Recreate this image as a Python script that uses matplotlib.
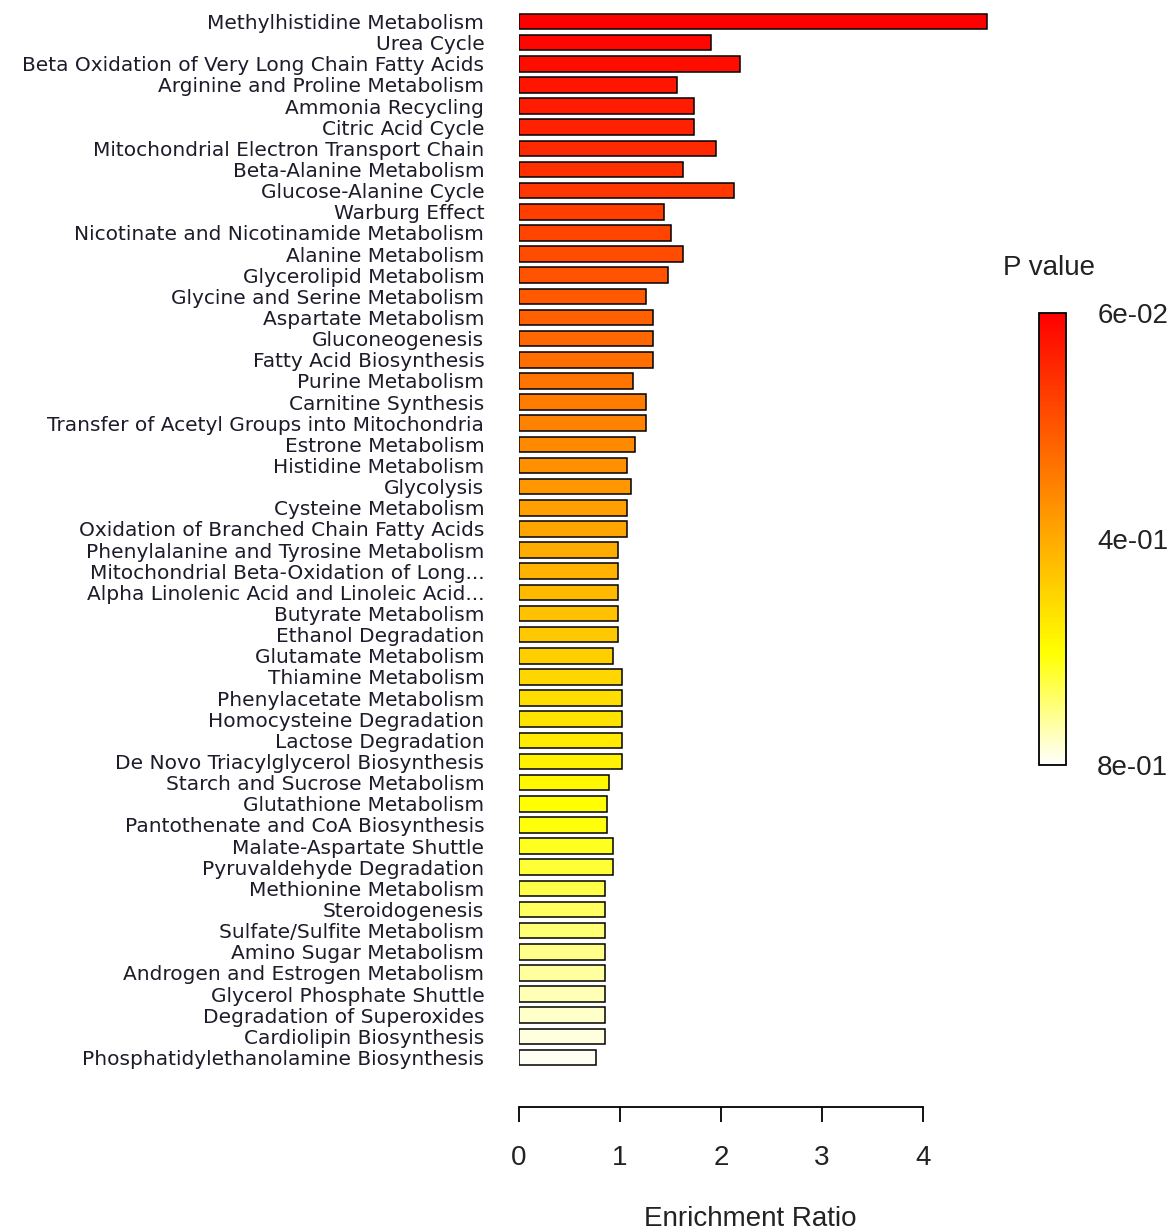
import numpy as np
import matplotlib
matplotlib.use("Agg")
import matplotlib.pyplot as plt
from matplotlib.colors import hsv_to_rgb, LinearSegmentedColormap, Normalize
from matplotlib.cm import ScalarMappable

plt.rcParams['font.family'] = ['Liberation Sans', 'DejaVu Sans']

# pathways, ordered by p value (smallest first)
pathways = [
    "Methylhistidine Metabolism", "Urea Cycle",
    "Beta Oxidation of Very Long Chain Fatty Acids", "Arginine and Proline Metabolism",
    "Ammonia Recycling", "Citric Acid Cycle", "Mitochondrial Electron Transport Chain",
    "Beta-Alanine Metabolism", "Glucose-Alanine Cycle", "Warburg Effect",
    "Nicotinate and Nicotinamide Metabolism", "Alanine Metabolism",
    "Glycerolipid Metabolism", "Glycine and Serine Metabolism", "Aspartate Metabolism",
    "Gluconeogenesis", "Fatty Acid Biosynthesis", "Purine Metabolism",
    "Carnitine Synthesis", "Transfer of Acetyl Groups into Mitochondria",
    "Estrone Metabolism", "Histidine Metabolism", "Glycolysis", "Cysteine Metabolism",
    "Oxidation of Branched Chain Fatty Acids", "Phenylalanine and Tyrosine Metabolism",
    "Mitochondrial Beta-Oxidation of Long...", "Alpha Linolenic Acid and Linoleic Acid...",
    "Butyrate Metabolism", "Ethanol Degradation", "Glutamate Metabolism",
    "Thiamine Metabolism", "Phenylacetate Metabolism", "Homocysteine Degradation",
    "Lactose Degradation", "De Novo Triacylglycerol Biosynthesis",
    "Starch and Sucrose Metabolism", "Glutathione Metabolism",
    "Pantothenate and CoA Biosynthesis", "Malate-Aspartate Shuttle",
    "Pyruvaldehyde Degradation", "Methionine Metabolism", "Steroidogenesis",
    "Sulfate/Sulfite Metabolism", "Amino Sugar Metabolism",
    "Androgen and Estrogen Metabolism", "Glycerol Phosphate Shuttle",
    "Degradation of Superoxides", "Cardiolipin Biosynthesis",
    "Phosphatidylethanolamine Biosynthesis",
]

enrichment = [
    4.63, 1.90, 2.19, 1.56, 1.73, 1.73, 1.95, 1.62, 2.13, 1.44,
    1.50, 1.62, 1.48, 1.26, 1.33, 1.33, 1.33, 1.13, 1.26, 1.26,
    1.15, 1.07, 1.11, 1.07, 1.07, 0.98, 0.98, 0.98, 0.98, 0.98,
    0.93, 1.02, 1.02, 1.02, 1.02, 1.02, 0.89, 0.87, 0.87, 0.93,
    0.93, 0.85, 0.85, 0.85, 0.85, 0.85, 0.85, 0.85, 0.85, 0.76,
]

p_min, p_max = 0.06, 0.8
x_ticks = [0, 1, 2, 3, 4]


def heat_colors(n):
    # same ramp as R's heat.colors()
    j = n // 4
    i = n - j
    cols = [hsv_to_rgb((h, 1, 1)) for h in np.linspace(0, 1 / 6, i)]
    if j > 0:
        sats = np.linspace(1 - 1 / (2 * j), 1 / (2 * j), j)
        cols += [hsv_to_rgb((1 / 6, s, 1)) for s in sats]
    return cols


n = len(pathways)
bar_cols = heat_colors(n)

fig = plt.figure(figsize=(11.7, 12.32), dpi=100)
ax = fig.add_axes([519 / 1170, 0.13133, 4.7 * 101 / 1170, 0.99286 - 0.13133])

ypos = np.arange(n)
ax.barh(ypos, enrichment, height=0.74, color=bar_cols, edgecolor='black', linewidth=1.1)
ax.set_ylim(n - 0.4, -0.6)
ax.set_xlim(0, 4.7)

ax.set_yticks(ypos)
ax.set_yticklabels(pathways, fontsize=14.5, color='#1c1c2a', family='DejaVu Sans')
ax.tick_params(axis='y', length=0, pad=25)

for s in ['top', 'right', 'left']:
    ax.spines[s].set_visible(False)
ax.spines['bottom'].set_position(('outward', 26.5))
ax.spines['bottom'].set_bounds(0, 4)
ax.spines['bottom'].set_linewidth(1.3)
ax.set_xticks(x_ticks)
ax.tick_params(axis='x', length=11, width=1.3, pad=16, labelsize=20, labelcolor='#222222')

fig.text(750 / 1170, 1 - 1219 / 1232, "Enrichment Ratio", fontsize=20,
         ha='center', va='center', color='#222222')

# colour key for p values
cax = fig.add_axes([1039 / 1170, 1 - 765 / 1232, 27 / 1170, 452 / 1232])
key_cmap = LinearSegmentedColormap.from_list('heat', heat_colors(200))
sm = ScalarMappable(norm=Normalize(p_min, p_max), cmap=key_cmap)
cb = fig.colorbar(sm, cax=cax)
cax.invert_yaxis()
mid = (p_min + p_max) / 2
cb.set_ticks([p_min, mid, p_max])
cb.set_ticklabels(["%.0e" % v for v in [p_min, mid, p_max]])
cax.tick_params(length=0, pad=22.5, labelsize=20, labelcolor='#222222')
cb.outline.set_linewidth(1.3)
cb.outline.set_edgecolor('black')

fig.text(1003 / 1170, 1 - 268 / 1232, "P value", fontsize=20, ha='left', va='center',
         color='#222222')

fig.savefig("out.png", dpi=100)
